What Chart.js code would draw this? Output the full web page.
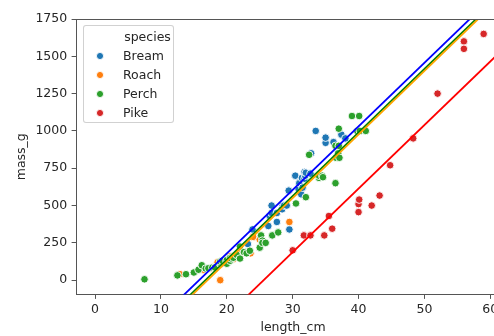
<!DOCTYPE html>
<html>
<head>
<meta charset="utf-8">
<script src="https://cdn.jsdelivr.net/npm/chart.js@4.4.1/dist/chart.umd.min.js"></script>
<style>
  html, body { margin: 0; padding: 0; background: #fff; overflow: hidden; }
  #wrap { position: relative; width: 494px; height: 336px; overflow: hidden; }
  canvas { position: absolute; left: 0; top: 0; }
  #legend {
    position: absolute; left: 83px; top: 25px; width: 91px; height: 98px;
    border: 1px solid rgba(204,204,204,0.9); border-radius: 3px; background: rgba(255,255,255,0.8);
    font-family: "DejaVu Sans", sans-serif; font-size: 12.5px; color: #262626; box-sizing: border-box;
  }
  #legend .title { position: absolute; left: 0; width: 100%; top: 3px; text-align: center; padding-left: 38px; box-sizing: border-box; }
  #legend .item { position: absolute; left: 0; height: 16px; line-height: 16px; }
  #legend .dot { position: absolute; left: 12px; top: 4px; width: 7.5px; height: 7.5px; border-radius: 50%; box-sizing: border-box; border: 0.9px solid #fff; }
  #legend .lab { position: absolute; left: 39px; white-space: nowrap; }
</style>
</head>
<body>
<div id="wrap">
  <canvas id="c" width="520" height="336"></canvas>
  <div id="legend"></div>
</div>
<script>
// ---- data (fish dataset: length_cm vs mass_g) ----
const species = ['Bream', 'Roach', 'Perch', 'Pike'];
const pointColors = ['#1f77b4', '#ff7f0e', '#2ca02c', '#d62728'];

const breamLength = [23.2,24,23.9,26.3,26.5,26.8,26.8,27.6,27.6,28.5,28.4,28.7,29.1,29.5,29.4,29.4,30.4,30.4,30.9,31.0,31.3,31.4,31.5,31.8,31.9,31.8,32.0,32.7,32.8,33.5,35.0,35.0,36.2,37.4,38.0];
const breamMass   = [242,290,340,363,430,450,500,390,450,500,475,500,500,340,600,600,700,700,610,650,575,685,620,680,700,725,720,714,850,1000,920,955,925,975,950];

const roachLength = [12.9,16.5,17.5,18.2,18.6,19.0,19.1,19.4,20.4,20.5,20.5,21.0,21.1,22.0,22.0,22.1,23.6,24.0,25.0,29.5];
const roachMass   = [40,69,78,87,120,0,110,120,150,145,160,140,160,169,161,200,180,290,272,390];

const perchLength = [7.5,12.5,13.8,15.0,15.7,16.2,16.8,17.2,17.8,18.2,19.0,19.0,19.0,19.3,20.0,20.0,20.0,20.0,20.0,20.5,20.5,20.7,21.0,21.5,22.0,22.0,22.6,23.0,23.5,25.0,25.2,25.4,25.4,25.4,25.9,26.9,27.8,30.5,32.0,32.5,34.0,34.0,34.5,34.6,36.5,36.5,36.6,36.9,37.0,37.0,37.1,39.0,39.8,40.1,40.2,41.1];
const perchMass   = [5.9,32,40,51.5,70,100,78,80,85,85,110,115,125,130,120,120,130,135,110,130,150,145,150,170,225,145,188,180,197,218,300,260,265,250,250,300,320,514,556,840,685,700,700,690,900,650,820,850,900,1015,820,1100,1000,1100,1000,1000];

const pikeLength = [30.0,31.7,32.7,34.8,35.5,36.0,40.0,40.0,40.1,42.0,43.2,44.8,48.3,52.0,56.0,56.0,59.0];
const pikeMass   = [200,300,300,300,430,345,456,510,540,500,567,770,950,1250,1600,1550,1650];

// parallel-slopes model: mass_g ~ length_cm + species
const slopeLength = 42.57;
const speciesIntercepts = [-672.24, -726.78, -713.29, -1089.46];
const lineColors = ['blue', 'orange', 'green', 'red'];

const xTicks = [0, 10, 20, 30, 40, 50, 60];
const yTicks = [0, 250, 500, 750, 1000, 1250, 1500, 1750];
const xRange = [-2.9, 63];
const yRange = [-96, 1750];

// ---- build datasets ----
const lengths = [breamLength, roachLength, perchLength, pikeLength];
const masses = [breamMass, roachMass, perchMass, pikeMass];
const datasets = [];
const lineOrder = [3, 0, 2, 1];
species.forEach((s, i) => {
  datasets.push({
    label: s + ' fit',
    data: xRange.map(x => ({ x: x, y: speciesIntercepts[i] + slopeLength * x })),
    showLine: true, pointRadius: 0, pointHoverRadius: 0,
    borderColor: lineColors[i], borderWidth: 1.8, order: lineOrder[i]
  });
});
species.forEach((s, i) => {
  datasets.push({
    label: s,
    data: lengths[i].map((x, k) => ({ x: x, y: masses[i][k] })),
    backgroundColor: pointColors[i], borderColor: '#ffffff', borderWidth: 0.9,
    pointRadius: 3.8, pointHoverRadius: 3.8, order: 20 - i
  });
});

const FONT = { family: 'DejaVu Sans', size: 12.5 };
const TXT = '#262626';
const AX = '#555';

const topSpine = {
  id: 'topSpine',
  afterDraw(chart) {
    const { ctx, chartArea } = chart;
    ctx.save();
    ctx.strokeStyle = AX; ctx.lineWidth = 1;
    ctx.beginPath();
    ctx.moveTo(chartArea.left, Math.round(chartArea.top) + 0.5);
    ctx.lineTo(chartArea.right, Math.round(chartArea.top) + 0.5);
    ctx.moveTo(Math.round(chartArea.right) + 0.5, chartArea.top);
    ctx.lineTo(Math.round(chartArea.right) + 0.5, chartArea.bottom);
    ctx.stroke();
    ctx.restore();
  }
};

new Chart(document.getElementById('c'), {
  type: 'scatter',
  data: { datasets },
  options: {
    responsive: false, animation: false, events: [],
    layout: { padding: { left: 0, top: 19, right: 10, bottom: 0 } },
    plugins: { legend: { display: false }, tooltip: { enabled: false } },
    scales: {
      x: {
        type: 'linear', min: xRange[0], max: xRange[1],
        afterBuildTicks: a => { a.ticks = xTicks.map(v => ({ value: v })); },
        afterFit: a => { a.height = 336 - 294.5; },
        grid: { display: true, drawOnChartArea: false, drawTicks: true, tickLength: 4.4, tickWidth: 1, tickColor: AX },
        border: { display: true, color: AX, width: 1 },
        ticks: { font: FONT, color: TXT, padding: 3, maxRotation: 0, autoSkip: false, callback: v => String(v) },
        title: { display: true, text: 'length_cm', font: FONT, color: TXT, padding: { top: 0, bottom: 1 } }
      },
      y: {
        type: 'linear', min: yRange[0], max: yRange[1],
        afterBuildTicks: a => { a.ticks = yTicks.map(v => ({ value: v })); },
        afterFit: a => { a.width = 76; },
        grid: { display: true, drawOnChartArea: false, drawTicks: true, tickLength: 4.4, tickWidth: 1, tickColor: AX },
        border: { display: true, color: AX, width: 1 },
        ticks: { font: FONT, color: TXT, padding: 4.4, autoSkip: false, callback: v => String(v) },
        title: { display: true, text: 'mass_g', font: FONT, color: TXT, padding: { top: 14, bottom: 0 } }
      }
    }
  },
  plugins: [topSpine]
});

// ---- legend (HTML text) ----
const lg = document.getElementById('legend');
const t = document.createElement('div'); t.className = 'title'; t.textContent = 'species'; lg.appendChild(t);
species.forEach((s, i) => {
  const it = document.createElement('div'); it.className = 'item';
  it.style.top = (22 + i * 19) + 'px';
  const d = document.createElement('span'); d.className = 'dot'; d.style.background = pointColors[i];
  const l = document.createElement('span'); l.className = 'lab'; l.textContent = s;
  it.appendChild(d); it.appendChild(l); lg.appendChild(it);
});
</script>
</body>
</html>
